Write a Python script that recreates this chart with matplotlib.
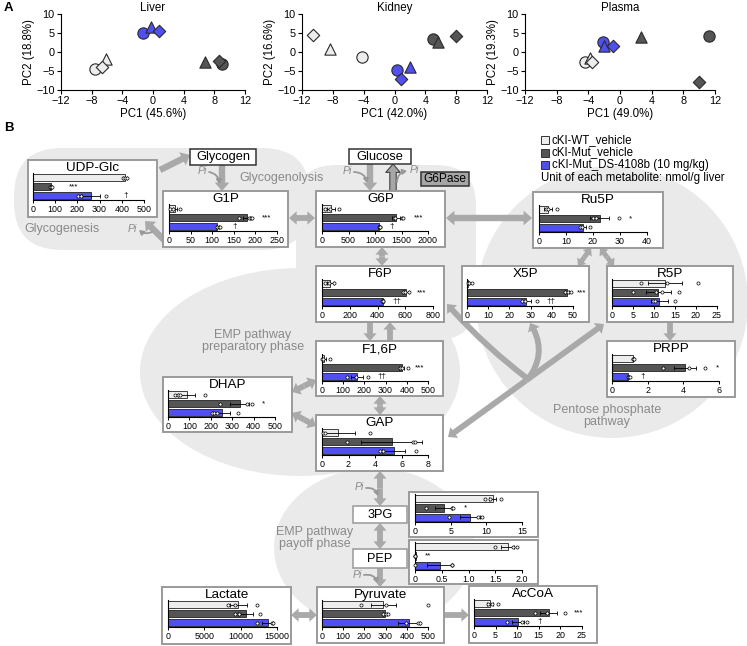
import numpy as np
import matplotlib.pyplot as plt
from matplotlib.patches import (FancyBboxPatch, Ellipse, Circle, Rectangle,
                                FancyArrowPatch, ArrowStyle)

plt.rcParams['font.family'] = ['Liberation Sans', 'DejaVu Sans']

W, H = 747, 646

# ---------------- panel A data (PCA scores) ----------------
pc_tissues = ['Liver', 'Kidney', 'Plasma']
pc1_var = ['45.6', '42.0', '49.0']
pc2_var = ['18.8', '16.6', '19.3']
# three mice per group: circle, triangle, diamond
pc_wt_x = [[-7.6, -6.1, -6.7], [-4.2, -8.4, -10.6], [-4.45, -3.8, -3.5]]
pc_wt_y = [[-4.6, -1.8, -3.9], [-1.4, 0.8, 4.6], [-2.7, -1.7, -2.7]]
pc_mut_x = [[9.05, 6.8, 8.6], [5.0, 5.6, 8.0], [11.2, 2.7, 10.0]]
pc_mut_y = [[-3.2, -2.7, -2.4], [3.3, 2.7, 4.2], [4.3, 4.0, -7.8]]
pc_ds_x = [[-1.3, -0.3, 0.8], [0.3, 2.0, 0.8], [-2.1, -2.0, -0.9]]
pc_ds_y = [[4.9, 6.7, 5.4], [-4.7, -3.9, -7.1], [2.7, 1.7, 1.7]]

# ---------------- panel B data (nmol/g liver) ----------------
groups = ['cKI-WT_vehicle', 'cKI-Mut_vehicle', 'cKI-Mut_DS-4108b (10 mg/kg)']
metabolites = ['UDP-Glc', 'G1P', 'G6P', 'Ru5P', 'F6P', 'X5P', 'R5P', 'F1,6P',
               'PRPP', 'DHAP', 'GAP', '3PG', 'PEP', 'Lactate', 'Pyruvate', 'AcCoA']
mean_wt = [415, 14, 170, 3.3, 60, 0.5, 12.6, 11, 1.2, 88, 1.2, 10.9, 1.73, 9700, 290, 3.7]
err_wt = [8, 5, 80, 1.5, 25, 0.6, 4, 10, 0.05, 40, 1.3, 0.5, 0.12, 1200, 60, 0.8]
mean_mut = [80, 180, 1400, 22.5, 605, 47, 11, 375, 4.1, 335, 5.25, 4.0, 0.01, 10700, 298, 17.3]
err_mut = [5, 8, 80, 3.5, 20, 1, 3, 10, 0.6, 45, 2.3, 1.2, 0.005, 1000, 8, 2]
mean_ds = [260, 112, 1080, 16.3, 440, 28, 11.3, 165, 0.9, 250, 5.4, 7.7, 0.46, 13700, 410, 10.1]
err_ds = [40, 4, 20, 1.2, 8, 2, 2, 30, 0.08, 40, 0.9, 1.4, 0.23, 700, 50, 1.4]

pts_wt = [[407, 415, 422], [3, 10, 25], [50, 142, 328], [2.7, 3.5, 6.5],
          [25, 50, 90], [0.3, 0.8, 2.3], [7.0, 13.0, 20.4], [2, 5, 39],
          [1.15, 1.2, 1.25], [34, 45, 57, 174], [0.1, 0.2, 3.6], [9.8, 10.5, 12.0],
          [1.5, 1.84, 1.9], [8300, 9200, 12200], [184, 300, 500], [3.3, 4.1, 5.6]]
pts_mut = [[75, 80, 85], [161, 185, 190, 192], [1350, 1380, 1500, 1520], [20, 21, 29.8],
           [585, 600, 630], [46, 47.5, 49], [5.1, 10.5, 12, 16], [367, 375, 406],
           [2.86, 4.3, 5.2], [244, 368, 391], [1.9, 6.9, 7.0], [1.6, 5.2, 5.3],
           [0, 0, 0], [9200, 9800, 12600], [290, 300, 312], [14.2, 17, 21]]
pts_ds = [[203, 214, 331], [111, 115, 118], [1070, 1085, 1100], [15.2, 16, 18.9],
          [430, 438, 442], [25.8, 27.3, 33], [9.8, 10.2, 15], [117, 160, 218],
          [0.9, 0.95, 1.0], [205, 215, 228, 326], [4.4, 4.6, 7.1], [4.8, 8.9, 9.4],
          [0.0, 0.69, 0.69], [12200, 14300, 14500], [398, 453, 464], [7.6, 11, 12.2]]

sig_mut = ['***', '***', '***', '*', '***', '***', '', '***',
           '*', '*', '', '*', '**', '', '', '***']
sig_mut_x = [181, 226, 1814, 34, 716, 54, 0, 461, 5.9, 448, 0, 7.1, 0.24, 0, 0, 24.2]
sig_ds = ['†', '†', '†', '', '††', '††', '', '††', '†', '', '', '', '', '', '', '†']
sig_ds_x = [418, 153, 1320, 0, 537, 39.4, 0, 281, 1.74, 0, 0, 0, 0, 0, 0, 15.3]

xmax = [500, 250, 2000, 40, 800, 50, 25, 500, 6, 500, 8, 15, 2.0, 15000, 500, 25]
xstep = [100, 50, 500, 10, 200, 10, 5, 100, 2, 100, 2, 5, 0.5, 5000, 100, 5]

# ---------------- layout (pixels) ----------------
# box x0, y0, x1, y1 and pixel position of axis 0 / axis max
boxes = {
    'UDP-Glc': (28, 160, 157, 217, 33, 144),
    'G1P': (163, 191, 288, 247, 169, 277),
    'G6P': (316, 191, 445, 247, 322, 428),
    'Ru5P': (533, 192, 663, 248, 539, 647),
    'F6P': (316, 266, 444, 322, 322, 433),
    'X5P': (462, 266, 589, 322, 467, 573),
    'R5P': (607, 266, 733, 322, 612, 717),
    'F1,6P': (316, 341, 443, 396, 322, 428),
    'PRPP': (607, 341, 735, 397, 612, 719),
    'DHAP': (163, 377, 292, 432, 168, 275),
    'GAP': (316, 415, 443, 471, 322, 428),
    '3PG': (409, 492, 538, 537, 415, 522),
    'PEP': (409, 540, 538, 584, 415, 522),
    'Lactate': (162, 587, 291, 644, 168, 277),
    'Pyruvate': (317, 587, 444, 643, 322, 428),
    'AcCoA': (469, 586, 597, 643, 474, 582),
}
untitled = ['3PG', 'PEP']

C_WT, C_MUT, C_DS = '#EDEDED', '#555555', '#4F4FF2'
BLOB = '#EAEAEA'
ARC = '#A9A9A9'
TXT = '#8A8A8A'


def fbox(x0, y0, x1, y1):
    return [x0 / W, 1 - y1 / H, (x1 - x0) / W, (y1 - y0) / H]


fig = plt.figure(figsize=(W / 100, H / 100), dpi=100)
bg = fig.add_axes([0, 0, 1, 1])
bg.set_xlim(0, W)
bg.set_ylim(H, 0)
bg.axis('off')

# ---------------- panel A ----------------
ax_pos = [(61, 14, 245, 90), (302, 14, 487, 90), (525, 14, 715, 90)]
markers = ['o', '^', 'D']
msizes = [66, 66, 40]
for t in range(3):
    ax = fig.add_axes(fbox(*ax_pos[t]))
    for xs, ys, col in [(pc_wt_x, pc_wt_y, C_WT), (pc_mut_x, pc_mut_y, C_MUT),
                        (pc_ds_x, pc_ds_y, C_DS)]:
        for k in range(3):
            ax.scatter(xs[t][k], ys[t][k], marker=markers[k], s=msizes[k],
                       facecolor=col, edgecolor='#2a2a2a', linewidth=0.8, zorder=3)
    ax.set_xlim(-12, 12)
    ax.set_ylim(-10, 10)
    ax.set_xticks(range(-12, 13, 4))
    ax.set_yticks(range(-10, 11, 5))
    ax.spines[['top', 'right']].set_visible(False)
    ax.tick_params(labelsize=7.8, length=3, width=0.8, pad=1.5)
    ax.set_title(pc_tissues[t], fontsize=8.3, pad=1)
    ax.set_xlabel('PC1 (' + pc1_var[t] + '%)', fontsize=8.3, labelpad=1)
    ax.set_ylabel('PC2 (' + pc2_var[t] + '%)', fontsize=8.3, labelpad=1)
    ax.patch.set_alpha(0)

bg.text(4, 8, 'A', fontsize=9.5, fontweight='bold', va='center')
bg.text(4, 128, 'B', fontsize=9.5, fontweight='bold', va='center')

# ---------------- panel B background blobs ----------------
bg.add_patch(FancyBboxPatch((14, 148), 296, 102, boxstyle='round,pad=0,rounding_size=48',
                            fc=BLOB, ec='none', zorder=1))
bg.add_patch(FancyBboxPatch((296, 165), 180, 175, boxstyle='round,pad=0,rounding_size=40',
                            fc=BLOB, ec='none', zorder=1))
bg.add_patch(Ellipse((300, 372), 320, 208, fc=BLOB, ec='none', zorder=1))
bg.add_patch(Circle((612, 302), 136, fc=BLOB, ec='none', zorder=1))
bg.add_patch(Ellipse((374, 548), 200, 160, fc=BLOB, ec='none', zorder=1))


# ---------------- arrows ----------------
def arrow(p0, p1, rad=0.0, scale=1.0, fc=ARC, ec='none', lw=0):
    st = ArrowStyle('Simple', head_length=0.55 * scale, head_width=0.95 * scale,
                    tail_width=0.42 * scale)
    a = FancyArrowPatch(p0, p1, arrowstyle=st, mutation_scale=10,
                        connectionstyle='arc3,rad=%s' % rad, shrinkA=0, shrinkB=0,
                        fc=fc, ec=ec, lw=lw, zorder=3)
    bg.add_patch(a)


def darrow(p0, p1, scale=1.0):
    mid = ((p0[0] + p1[0]) / 2, (p0[1] + p1[1]) / 2)
    arrow(mid, p0, scale=scale)
    arrow(mid, p1, scale=scale)


arrow((160, 170), (190, 155), scale=1.1)
arrow((222, 165), (222, 191), scale=1.1)
arrow((168, 244), (145, 221), scale=1.1)
darrow((289, 218), (315, 218))
arrow((370, 164), (370, 191), scale=1.1)
arrow((393, 191), (393, 164), scale=1.1, fc='#A6A6A6', ec='#444444', lw=0.8)
darrow((446, 218), (532, 218), scale=1.1)
darrow((382, 247), (382, 266))
arrow((370, 322), (370, 341))
arrow((390, 341), (390, 322))
darrow((292, 392), (316, 380))
darrow((292, 413), (316, 426))
darrow((380, 396), (380, 415))
darrow((380, 471), (380, 506))
darrow((380, 523), (380, 549))
arrow((380, 568), (380, 587))
darrow((291, 615), (317, 615))
arrow((444, 615), (469, 615))
darrow((591, 248), (578, 266), scale=0.85)
darrow((600, 248), (614, 266), scale=0.85)
arrow((670, 322), (670, 341))
# non-oxidative pentose phosphate connections
arrow((528, 379), (447, 304), rad=-0.05)
arrow((528, 379), (530, 323), rad=0.35)
darrow((448, 437), (604, 324))


def pi_label(tx, ty, p0, p1, rad=0.4):
    bg.text(tx, ty, 'Pi', fontsize=7.6, color=TXT, style='italic',
            ha='center', va='center', zorder=4)
    bg.add_patch(FancyArrowPatch(p0, p1, arrowstyle='-|>,head_length=2.5,head_width=1.5',
                                 connectionstyle='arc3,rad=%s' % rad, color='#999999',
                                 lw=1.3, shrinkA=0, shrinkB=0, zorder=4))


pi_label(202, 171, (209, 172), (219, 184), rad=-0.4)
pi_label(347, 171, (354, 172), (367, 183), rad=-0.4)
pi_label(414, 170, (397, 182), (407, 171), rad=-0.4)
pi_label(132, 229, (152, 232), (139, 230), rad=-0.3)
pi_label(359, 487, (366, 488), (378, 496), rad=-0.4)
pi_label(357, 575, (364, 575), (378, 583), rad=-0.4)

# ---------------- text labels ----------------
bg.text(282, 178, 'Glycogenolysis', fontsize=9, color=TXT, ha='center', va='center', zorder=2)
bg.text(62, 229, 'Glycogenesis', fontsize=9, color=TXT, ha='center', va='center', zorder=2)
bg.text(253, 341, 'EMP pathway\npreparatory phase', fontsize=9, color=TXT,
        ha='center', va='center', linespacing=1.0, zorder=2)
bg.text(315, 538, 'EMP pathway\npayoff phase', fontsize=9, color=TXT,
        ha='center', va='center', linespacing=1.0, zorder=2)
bg.text(607, 416, 'Pentose phosphate\npathway', fontsize=9, color=TXT,
        ha='center', va='center', linespacing=1.0, zorder=2)

for name, (x0, y0, x1, y1), fc, ec in [('Glycogen', (190, 149, 256, 165), 'white', '#333333'),
                                       ('Glucose', (349, 149, 411, 164), 'white', '#333333'),
                                       ('G6Pase', (421, 172, 469, 186), '#A6A6A6', '#333333'),
                                       ('3PG', (353, 506, 407, 523), 'white', '#999999'),
                                       ('PEP', (353, 549, 407, 568), 'white', '#999999')]:
    bg.add_patch(Rectangle((x0, y0), x1 - x0, y1 - y0, fc=fc, ec=ec, lw=1.1, zorder=5))
    fs = 8.6 if name == 'G6Pase' else 9.2
    bg.text((x0 + x1) / 2, (y0 + y1) / 2, name, fontsize=fs, ha='center', va='center', zorder=6)

# legend
for k, col in enumerate([C_WT, C_MUT, C_DS]):
    y = 140 + k * 12.5
    bg.add_patch(Rectangle((541, y - 4), 8, 8, fc=col, ec='#333333', lw=0.7, zorder=5))
    bg.text(552, y, groups[k], fontsize=8.3, va='center', zorder=5)
bg.text(541, 178, 'Unit of each metabolite: nmol/g liver', fontsize=8.3, va='center', zorder=5)

# ---------------- metabolite insets ----------------
for i, name in enumerate(metabolites):
    x0, y0, x1, y1, a0, a1 = boxes[name]
    bg.add_patch(Rectangle((x0, y0), x1 - x0, y1 - y0, fc='white', ec='#9A9A9A',
                           lw=1.4, zorder=5))
    if name in untitled:
        top, base = y0 + 2, y0 + 30
    else:
        bg.text((x0 + x1) / 2, y0 + 8, name, fontsize=9.7, ha='center', va='center', zorder=6)
        top, base = y0 + 13, y0 + 40
    ax = fig.add_axes(fbox(a0, top, a1, base))
    ax.patch.set_alpha(0)
    means = [mean_wt[i], mean_mut[i], mean_ds[i]]
    errs = [err_wt[i], err_mut[i], err_ds[i]]
    pts = [pts_wt[i], pts_mut[i], pts_ds[i]]
    ax.barh([0, 1, 2], means, height=0.8, color=[C_WT, C_MUT, C_DS],
            edgecolor='#222222', linewidth=0.6, zorder=2)
    ax.errorbar(means, [0, 1, 2], xerr=errs, fmt='none', ecolor='k',
                elinewidth=0.6, capsize=1.3, capthick=0.6, zorder=3)
    for k in range(3):
        ax.scatter(pts[k], [k] * len(pts[k]), s=5, facecolor='white', edgecolor='k',
                   linewidth=0.5, zorder=4, clip_on=False)
    if sig_mut[i]:
        ax.text(sig_mut_x[i], 1, sig_mut[i], fontsize=5.8, ha='center', va='center', clip_on=False)
    if sig_ds[i]:
        ax.text(sig_ds_x[i], 2, sig_ds[i], fontsize=5.8, ha='center', va='center', clip_on=False)
    ax.set_xlim(0, xmax[i])
    ax.set_ylim(2.5, -0.5)
    ticks = np.arange(0, xmax[i] + xstep[i] / 2, xstep[i])
    ax.set_xticks(ticks)
    if xstep[i] < 1:
        ax.set_xticklabels(['0'] + ['%.1f' % v for v in ticks[1:]])
    else:
        ax.set_xticklabels(['%d' % v for v in ticks])
    ax.set_yticks([])
    ax.spines[['top', 'right']].set_visible(False)
    ax.spines['left'].set_linewidth(0.8)
    ax.spines['bottom'].set_linewidth(0.8)
    ax.tick_params(axis='x', labelsize=6.4, length=2.5, width=0.7, pad=1)

fig.savefig('out.png', dpi=100)
